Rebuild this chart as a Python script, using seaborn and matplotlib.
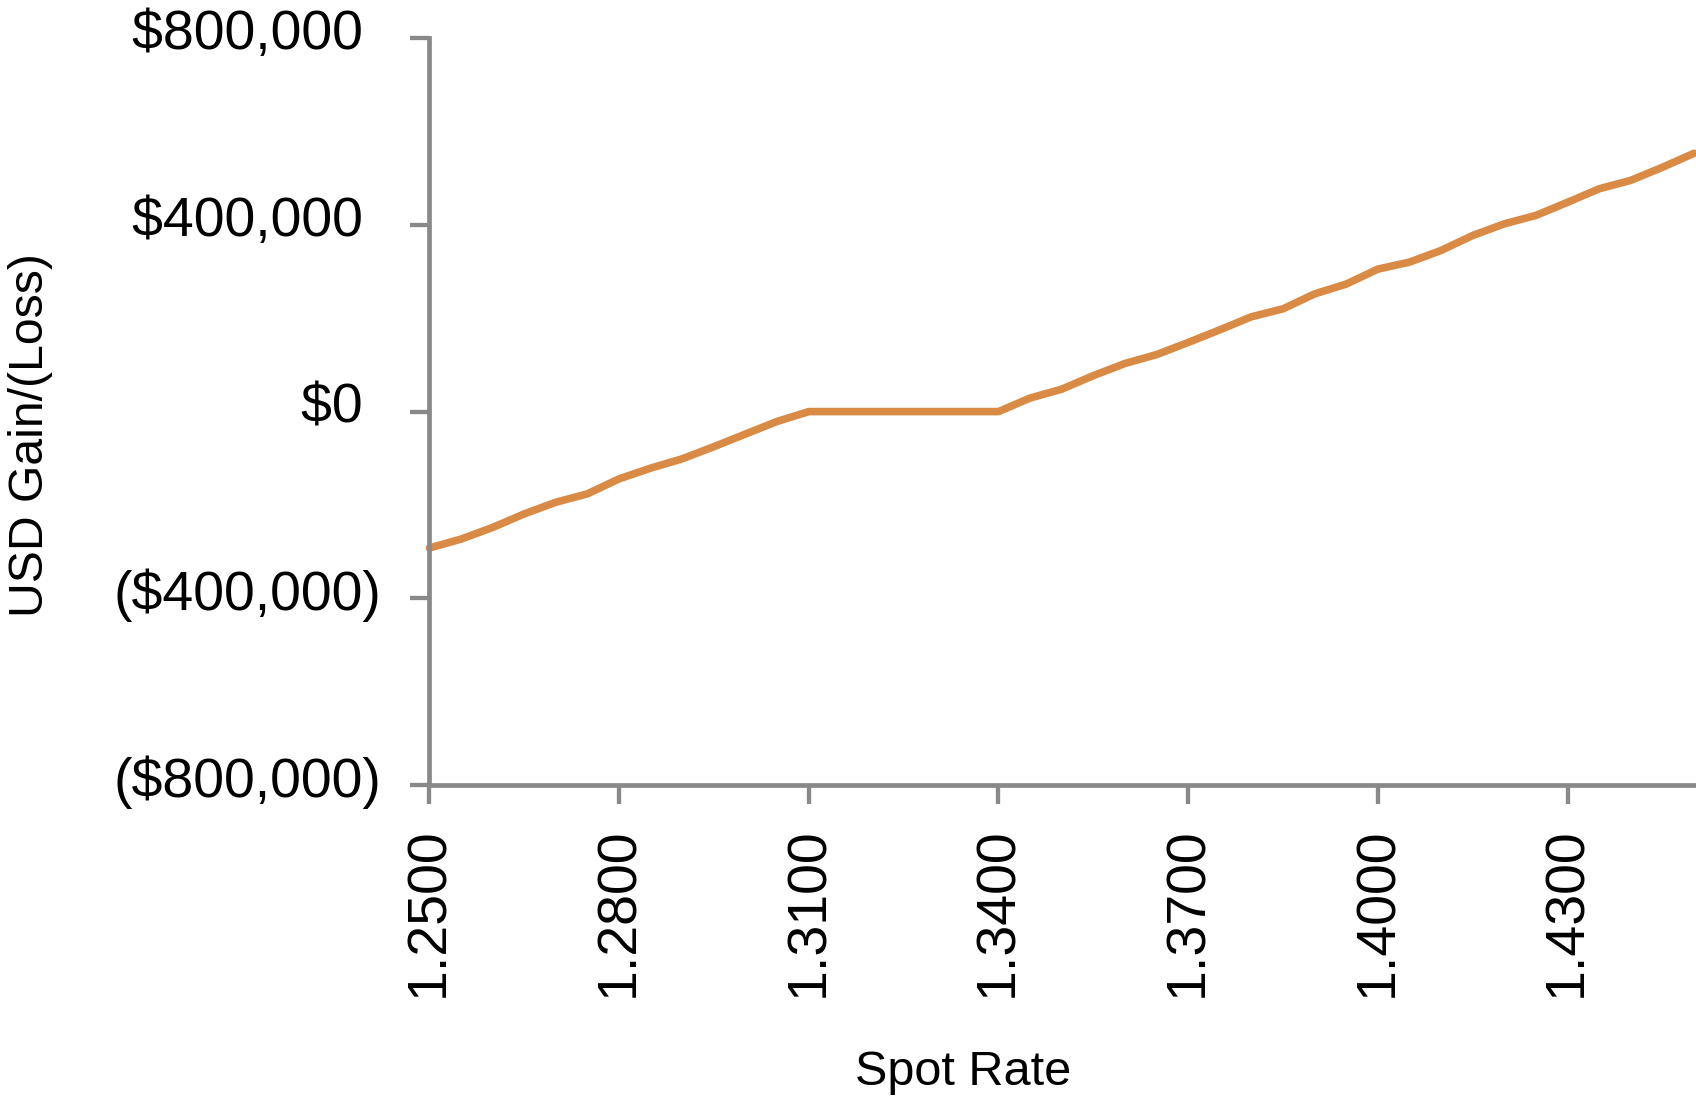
import matplotlib
matplotlib.use("Agg")
import matplotlib.pyplot as plt
import matplotlib.ticker as mticker
import matplotlib.transforms as mtransforms
import pandas as pd
import seaborn as sns

# Spot rate grid and the corresponding USD gain/(loss) of the hedged position
spot_rate = [1.250, 1.255, 1.260, 1.265, 1.270, 1.275, 1.280, 1.285, 1.290,
             1.295, 1.300, 1.305, 1.310, 1.315, 1.320, 1.325, 1.330, 1.335,
             1.340, 1.345, 1.350, 1.355, 1.360, 1.365, 1.370, 1.375, 1.380,
             1.385, 1.390, 1.395, 1.400, 1.405, 1.410, 1.415, 1.420, 1.425,
             1.430, 1.435, 1.440, 1.445, 1.450]
usd_gain = [-292000, -273000, -248000, -219000, -194000, -176000, -144000,
            -121000, -101000, -75000, -48000, -21000, 0, 0, 0, 0, 0, 0, 0,
            29000, 48000, 77000, 103000, 122000, 148000, 175000, 203000,
            220000, 252000, 273000, 305000, 320000, 345000, 377000, 402000,
            420000, 448000, 477000, 495000, 523000, 553000]

x_ticks = [1.25, 1.28, 1.31, 1.34, 1.37, 1.40, 1.43]
y_ticks = [-800000, -400000, 0, 400000, 800000]

x_label = "Spot Rate"
y_label = "USD Gain/(Loss)"

sns.set_theme(style="white")
plt.rcParams["font.family"] = ["Liberation Sans", "DejaVu Sans"]

W, H = 1696, 1097
fig = plt.figure(figsize=(W / 100, H / 100), dpi=100)
left, right = 429.4, 1694.0
top, bottom = 37.9, 785.3
ax = fig.add_axes([left / W, 1 - bottom / H, (right - left) / W, (bottom - top) / H])

df = pd.DataFrame({"spot": spot_rate, "gain": usd_gain})
sns.lineplot(data=df, x="spot", y="gain", ax=ax, color="#D98B46",
             linewidth=5.5, solid_capstyle="round", solid_joinstyle="round",
             clip_on=False)

ax.set_xlim(1.25, 1.45)
ax.set_ylim(-800000, 800000)
ax.set_xticks(x_ticks)
ax.set_yticks(y_ticks)


def money(v, pos=None):
    # accounting style: negatives in parentheses, positives padded on the right
    if v < 0:
        return f"(${-v:,.0f})"
    return f"${v:,.0f}\u2004"


ax.xaxis.set_major_formatter(mticker.FuncFormatter(lambda v, p: f"{v:.4f}"))
ax.yaxis.set_major_formatter(mticker.FuncFormatter(money))

spine_color = "#898989"
for side in ("top", "right"):
    ax.spines[side].set_visible(False)
for side in ("left", "bottom"):
    ax.spines[side].set_color(spine_color)
    ax.spines[side].set_linewidth(3.4)

ax.tick_params(axis="both", which="major", direction="out", length=13.5,
               width=3.1, color=spine_color, labelcolor="black")
ax.tick_params(axis="y", pad=21, left=True)
ax.tick_params(axis="x", pad=17, bottom=True)

# y labels sit slightly above their ticks
raise_up = mtransforms.ScaledTranslation(0, 6.5 / 72, fig.dpi_scale_trans)
for lab in ax.get_yticklabels():
    lab.set_fontsize(40)
    lab.set_transform(lab.get_transform() + raise_up)
for lab in ax.get_xticklabels():
    lab.set_fontsize(40)
    lab.set_rotation(90)

ax.set_xlabel("")
ax.set_ylabel("")
ax.grid(False)

fig.text(963 / W, 1 - 1085 / H, x_label, ha="center", va="baseline",
         fontsize=35, color="black")
fig.text(31 / W, 1 - 435 / H, y_label, ha="center", va="center",
         rotation=90, fontsize=34.7, color="black")

fig.savefig("out.png", dpi=100, facecolor="white")
